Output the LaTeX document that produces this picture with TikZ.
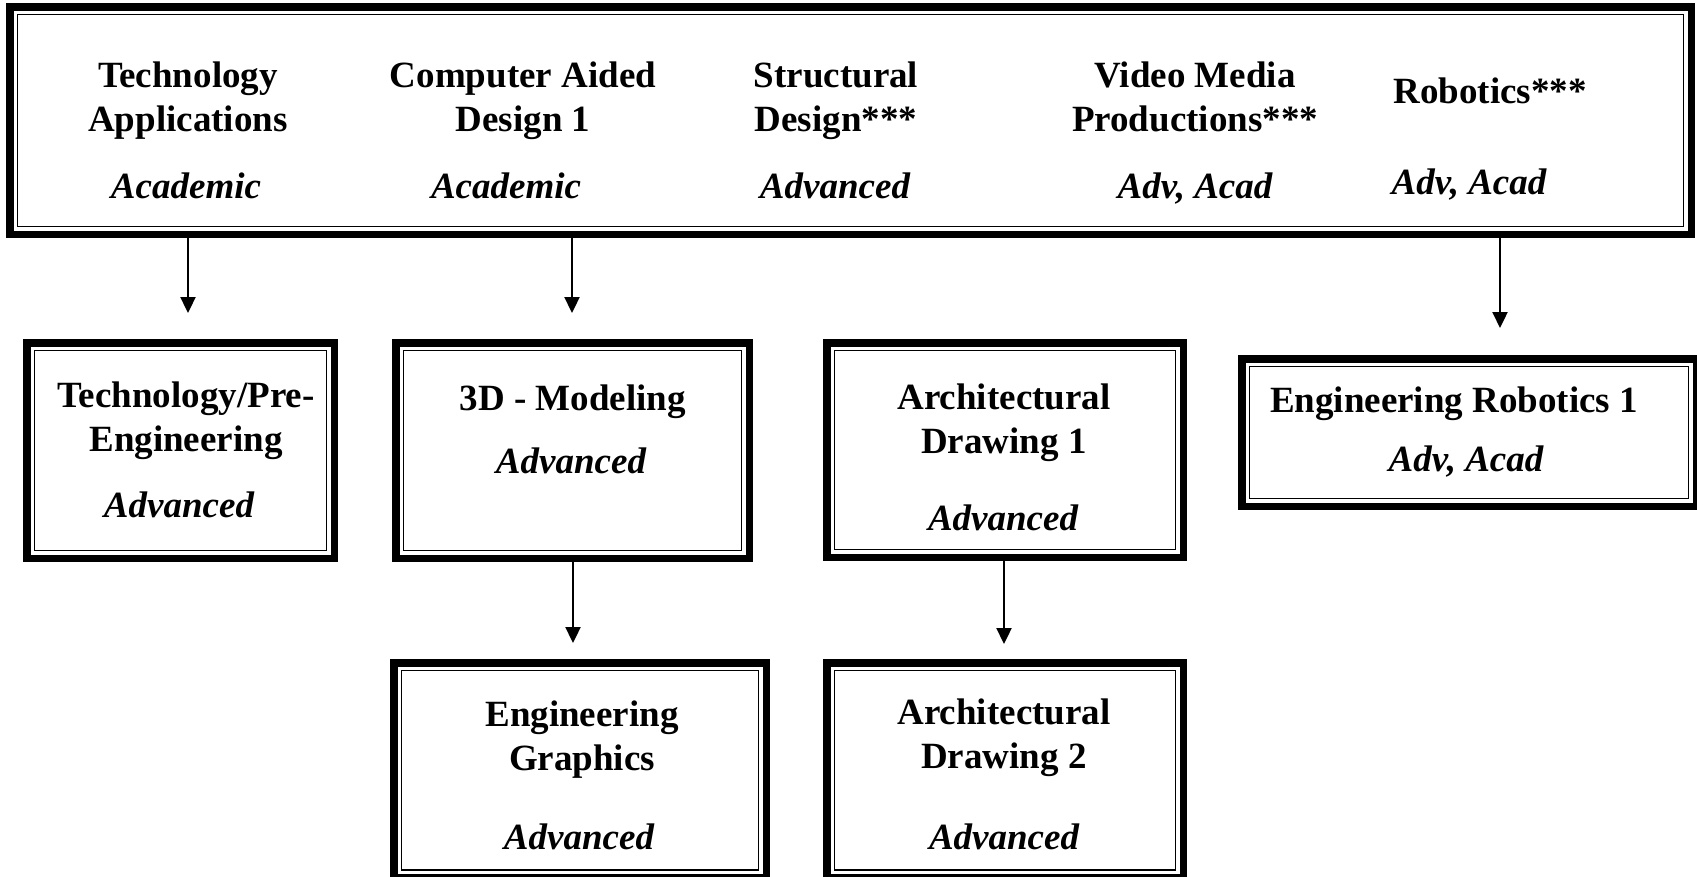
\documentclass[tikz,border=0pt]{standalone}
\usepackage{fontspec}
\setmainfont{Liberation Serif}
\usetikzlibrary{arrows.meta}
\tikzset{
  boxframe/.style={draw=black, line width=7.5pt, rectangle, inner sep=0pt, outer sep=0pt, fill=white},
  thinframe/.style={draw=black, line width=1.8pt},
  ttl/.style={font=\fontsize{37}{44}\selectfont\bfseries, align=center, anchor=base, inner sep=0pt},
  lvl/.style={font=\fontsize{37}{44}\selectfont\bfseries\itshape, anchor=base, inner sep=0pt},
  arr/.style={line width=2.3pt, -{Triangle[width=15pt,length=16pt]}}
}
\newcommand{\dframe}[5]{%
  \node[boxframe, minimum width={#4-#2-7.5}, minimum height={#5-#3-7.5}] (#1) at ({(#2+#4)/2},{(#3+#5)/2}) {};
  \draw[thinframe] ([shift={(7.75,7.75)}]#1.north west) rectangle ([shift={(-7.75,-7.75)}]#1.south east);
}
\begin{document}
\begin{tikzpicture}[x=1pt,y=-1pt]
\useasboundingbox (0,0) rectangle (1697,876);
\fill[white] (0,0) rectangle (1697,876);

% frames
\dframe{top}{6}{3}{1695}{238}
\dframe{techpre}{23}{339}{338}{562}
\dframe{mod}{392}{339}{753}{562}
\dframe{archa}{823}{339}{1187}{561}
\dframe{robo}{1238}{355}{1700}{510}
\dframe{graph}{390}{659}{770}{881.5}
\dframe{archb}{823}{659}{1187}{881.5}

% top texts (base = last line)
\node[ttl] (tA) at (188,131) {Technology\\Applications};
\node[lvl] (lA) at (186,198) {Academic};
\node[ttl] (tB) at (523,131) {Computer Aided\\Design 1};
\node[lvl] (lB) at (506,198) {Academic};
\node[ttl] (tC) at (836,131) {Structural\\Design***};
\node[lvl] (lC) at (835,198) {Advanced};
\node[ttl] (tD) at (1195,131) {Video Media\\Productions***};
\node[lvl] (lD) at (1195,198) {Adv, Acad};
\node[ttl] (tE) at (1490,103) {Robotics***};
\node[lvl] (lE) at (1469,194) {Adv, Acad};

% lower texts
\node[ttl] (tTP) at (186,451) {Technology/Pre-\\Engineering};
\node[lvl] (lTP) at (179,517) {Advanced};
\node[ttl] (tM) at (573,410) {3D - Modeling};
\node[lvl] (lM) at (571,473) {Advanced};
\node[ttl] (tA1) at (1004,453) {Architectural\\Drawing 1};
\node[lvl] (lA1) at (1003,530) {Advanced};
\node[ttl] (tR) at (1454,412) {Engineering Robotics 1};
\node[lvl] (lR) at (1466,471) {Adv, Acad};
\node[ttl] (tG) at (582,770) {Engineering\\Graphics};
\node[lvl] (lG) at (579,849) {Advanced};
\node[ttl] (tA2) at (1004,768) {Architectural\\Drawing 2};
\node[lvl] (lA2) at (1004,849) {Advanced};

% arrows
\coordinate (e1) at (188,313);
\coordinate (e2) at (572,313);
\coordinate (e3) at (1500,328);
\coordinate (e4) at (573,643);
\coordinate (e5) at (1004,644);
\draw[arr] (top.south -| e1) -- (e1);
\draw[arr] (top.south -| e2) -- (e2);
\draw[arr] (top.south -| e3) -- (e3);
\draw[arr] (mod.south -| e4) -- (e4);
\draw[arr] (archa.south -| e5) -- (e5);
\end{tikzpicture}
\end{document}
